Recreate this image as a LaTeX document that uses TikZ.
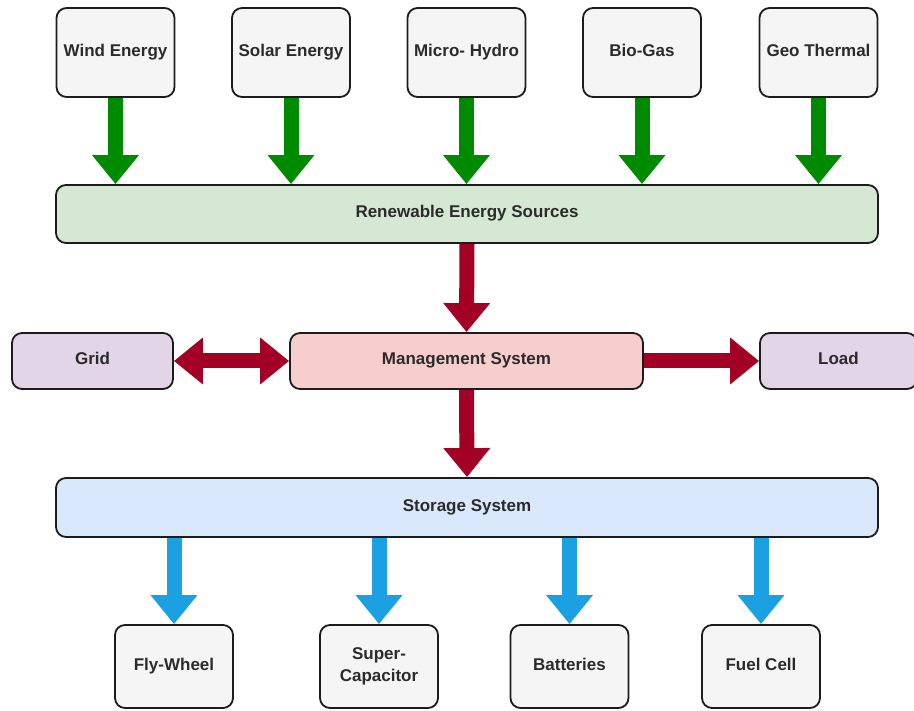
\documentclass[tikz,border=0pt]{standalone}
\usepackage{fontspec}
\setmainfont{Liberation Sans}
\usetikzlibrary{arrows.meta, positioning, backgrounds}
\definecolor{boxgray}{HTML}{F5F5F5}
\definecolor{resgreen}{HTML}{D5E8D4}
\definecolor{mgmtred}{HTML}{F8CECC}
\definecolor{sidepurple}{HTML}{E1D5E7}
\definecolor{storeblue}{HTML}{DAE8FC}
\definecolor{flowgreen}{HTML}{008A00}
\definecolor{flowred}{HTML}{A20025}
\definecolor{flowblue}{HTML}{1BA1E2}
\definecolor{edgedark}{HTML}{1C1C1C}
\definecolor{textdark}{HTML}{2B2B2B}

\begin{document}
\begin{tikzpicture}[
  x=1pt, y=-1pt,
  box/.style={
    rectangle, rounded corners=10pt,
    draw=edgedark, line width=1.8pt,
    inner sep=2pt, align=center,
    font=\fontsize{17}{22}\selectfont\bfseries, text=textdark
  },
  oneline/.style={text height=0.95em, text depth=0.15em},
  srcbox/.style={box, fill=boxgray, minimum width=118pt, minimum height=89pt},
  bar/.style={box, oneline, minimum width=822pt, minimum height=58pt},
  midbox/.style={box, oneline, minimum height=56pt},
  fatarrow/.style={line width=15pt, -{Triangle[width=45pt, length=29pt]}},
  fatboth/.style={line width=15pt,
    {Triangle[width=45pt, length=29pt]}-{Triangle[width=45pt, length=29pt]}}
]
  \useasboundingbox (0,0) rectangle (914,711);

  % sources
  \node[srcbox, oneline] (wind) at (115.5,52.5) {Wind Energy};
  \node[srcbox, oneline] (solar) at (291,52.5) {Solar Energy};
  \node[srcbox, oneline] (hydro) at (466.5,52.5) {Micro- Hydro};
  \node[srcbox, oneline] (biogas) at (642,52.5) {Bio-Gas};
  \node[srcbox, oneline] (geo) at (818.5,52.5) {Geo Thermal};

  \node[bar, fill=resgreen] (res) at (467,214) {Renewable Energy Sources};

  % middle row
  \node[midbox, fill=sidepurple, minimum width=161pt] (grid) at (92.5,361) {Grid};
  \node[midbox, fill=mgmtred, minimum width=353pt] (ms) at (466.5,361) {Management System};
  \node[midbox, fill=sidepurple, minimum width=157pt] (load) at (838.5,361) {Load};

  \node[bar, fill=storeblue, minimum height=59pt] (st) at (467,507.5) {Storage System};

  % storage types
  \node[srcbox, oneline, minimum height=83pt] (fw) at (174,666.5) {Fly-Wheel};
  \node[srcbox, minimum height=83pt] (sc) at (379,666.5) {Super-\\Capacitor};
  \node[srcbox, oneline, minimum height=83pt] (bat) at (569.5,666.5) {Batteries};
  \node[srcbox, oneline, minimum height=83pt] (fc) at (761,666.5) {Fuel Cell};

  \begin{scope}[on background layer]
    \foreach \src in {wind, solar, hydro, biogas, geo}
      \draw[fatarrow, flowgreen] (\src.south) -- (\src |- res.north);
    \draw[fatarrow, flowred] (res.south) -- (ms.north);
    \draw[fatarrow, flowred] (ms.south) -- (st.north);
    \draw[fatboth, flowred] (grid.east) -- (ms.west);
    \draw[fatarrow, flowred] (ms.east) -- (load.west);
    \foreach \dst in {fw, sc, bat, fc}
      \draw[fatarrow, flowblue] (st.south -| \dst) -- (\dst.north);
  \end{scope}
\end{tikzpicture}
\end{document}
